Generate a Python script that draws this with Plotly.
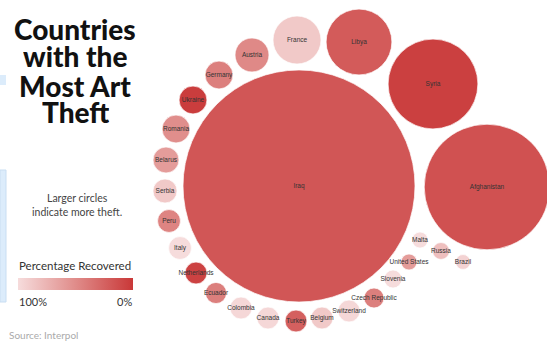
import plotly.graph_objects as go

# ---- data ----
countries = ["Iraq", "Afghanistan", "Syria", "Libya", "France", "Austria", "Germany",
             "Ukraine", "Romania", "Belarus", "Serbia", "Peru", "Italy", "Netherlands",
             "Ecuador", "Colombia", "Canada", "Turkey", "Belgium", "Switzerland",
             "Czech Republic", "Slovenia", "United States", "Malta", "Russia", "Brazil"]
items_stolen = [13550, 3970, 2030, 1090, 580, 290, 196, 196, 196, 170, 145, 132, 132, 121,
                112, 121, 121, 121, 121, 121, 100, 81, 64, 64, 72, 56]
pct_recovered = [18, 15, 5, 21, 88, 48, 42, 3, 51, 60, 88, 45, 100, 6,
                 42, 97, 97, 24, 88, 97, 42, 100, 60, 100, 82, 94]

# ---- layout positions of the packed bubbles (chart units, origin top-left) ----
pos_x = [299, 487, 433, 359, 297, 252, 219, 193, 176, 166, 165, 169, 180, 196,
         216, 241, 268, 296, 322, 349, 374, 393, 409, 420, 441, 463]
pos_y = [186, 187, 84, 42, 40, 55, 75, 100, 129, 160, 191, 221, 248, 273,
         293, 308, 318, 321, 318, 311, 298, 279, 262, 240, 251, 262]

W, H = 547, 345
R_MAX = 116
not_recovered = [100 - p for p in pct_recovered]
colorscale = [[0, "#f6dcdc"], [0.5, "#e08c8a"], [1, "#c93838"]]

fig = go.Figure()
fig.add_trace(go.Scatter(
    x=pos_x, y=pos_y, mode="markers+text", text=countries,
    textposition="middle center",
    textfont=dict(family="Liberation Sans", size=6.5, color="#333333"),
    marker=dict(
        size=items_stolen, sizemode="area",
        sizeref=max(items_stolen) / (2 * R_MAX ** 2),
        color=not_recovered, cmin=0, cmax=100, colorscale=colorscale,
        opacity=1,
        line=dict(width=1, color="rgba(255,255,255,0.7)"),
        colorbar=dict(
            orientation="h", x=18 / W, xanchor="left", y=1 - 278 / H, yanchor="top",
            len=115, lenmode="pixels", thickness=12, thicknessmode="pixels",
            outlinewidth=0, showticklabels=False, ticks="", xpad=0, ypad=0,
        ),
    ),
    hoverinfo="text", showlegend=False,
))

annotations = []
title_lines = ["Countries", "with the", "Most Art", "Theft"]
title_y = [28, 56, 85, 112]
for t, yy in zip(title_lines, title_y):
    annotations.append(dict(text=t, x=75 / W, y=1 - yy / H, xref="paper", yref="paper",
                            xanchor="center", yanchor="middle", showarrow=False,
                            height=27, valign="middle",
                            font=dict(family="Lato", size=28, color="#111", weight=900)))
for t, yy in zip(["Larger circles", "indicate more theft."], [198, 212]):
    annotations.append(dict(text=t, x=77 / W, y=1 - yy / H, xref="paper", yref="paper",
                            xanchor="center", yanchor="middle", showarrow=False,
                            font=dict(family="Lato", size=10.5, color="#444")))
annotations.append(dict(text="Percentage Recovered", x=17 / W, y=1 - 265 / H, xref="paper",
                        yref="paper", xanchor="left", yanchor="middle", showarrow=False,
                        font=dict(family="Lato", size=11.5, color="#333")))
annotations.append(dict(text="100%", x=17 / W, y=1 - 301 / H, xref="paper", yref="paper",
                        xanchor="left", yanchor="middle", showarrow=False,
                        font=dict(family="Lato", size=11, color="#333")))
annotations.append(dict(text="0%", x=134 / W, y=1 - 301 / H, xref="paper", yref="paper",
                        xanchor="right", yanchor="middle", showarrow=False,
                        font=dict(family="Lato", size=11, color="#333")))
annotations.append(dict(text="Source: Interpol", x=7 / W, y=1 - 335 / H, xref="paper",
                        yref="paper", xanchor="left", yanchor="middle", showarrow=False,
                        font=dict(family="Lato", size=10, color="#aaaaaa")))

shapes = [
    dict(type="rect", xref="paper", yref="paper", x0=0, x1=6 / W, y0=1 - 85 / H, y1=1 - 75 / H,
         fillcolor="#dcecfb", line=dict(width=0), layer="below"),
    dict(type="rect", xref="paper", yref="paper", x0=0, x1=6 / W, y0=1 - 302 / H, y1=1 - 170 / H,
         fillcolor="#dcecfb", line=dict(width=1, color="#c9def2"), layer="below"),
]

fig.update_layout(
    width=W, height=H, margin=dict(l=0, r=0, t=0, b=0),
    paper_bgcolor="white", plot_bgcolor="white",
    xaxis=dict(range=[0, W], visible=False, fixedrange=True),
    yaxis=dict(range=[H, 0], visible=False, fixedrange=True),
    annotations=annotations, shapes=shapes,
)
fig.write_html("out.html")
